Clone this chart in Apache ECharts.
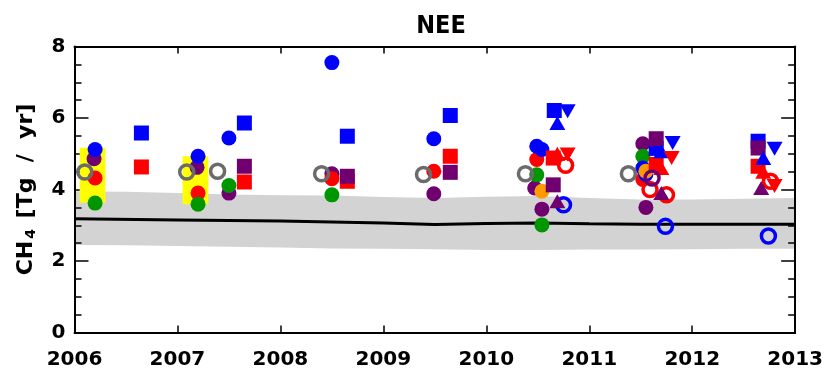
<!DOCTYPE html>
<html>
<head>
<meta charset="utf-8">
<script src="https://cdn.jsdelivr.net/npm/echarts@6/dist/echarts.min.js"></script>
<style>
  html, body { margin: 0; padding: 0; background: #ffffff; }
  #chart { width: 826px; height: 370px; }
</style>
</head>
<body>
<div id="chart"></div>
<script>
// Axis ranges
const yearMin = 2006;
const yearMax = 2013;
const valueMin = 0;
const valueMax = 8;

// Model uncertainty band (CH4 flux range) and central estimate
const bandYears  = [2006.0, 2006.5, 2007.0, 2007.5, 2008.0, 2008.5, 2009.0, 2009.5, 2010.0, 2010.5, 2011.0, 2011.5, 2012.0, 2012.5, 2013.0];
const bandUpper  = [3.95, 3.94, 3.90, 3.86, 3.84, 3.83, 3.79, 3.76, 3.80, 3.82, 3.76, 3.72, 3.72, 3.74, 3.76];
const bandLower  = [2.45, 2.44, 2.42, 2.40, 2.38, 2.35, 2.34, 2.33, 2.31, 2.31, 2.32, 2.32, 2.33, 2.34, 2.34];
const trendYears  = [2006.0, 2007.0, 2008.0, 2008.5, 2009.0, 2009.5, 2010.0, 2010.5, 2011.0, 2011.5, 2012.0, 2013.0];
const trendValues = [3.18, 3.15, 3.12, 3.09, 3.06, 3.02, 3.05, 3.06, 3.04, 3.03, 3.03, 3.03];

// Yellow range boxes
const boxStart = [2006.05, 2007.05];
const boxEnd   = [2006.30, 2007.30];
const boxLow   = [3.63, 3.59];
const boxHigh  = [5.17, 4.93];

// Filled circles
const purpleCircles = [[2006.19, 4.86], [2007.19, 4.62], [2007.50, 3.90], [2008.50, 4.44], [2009.49, 3.88], [2010.47, 4.04], [2010.54, 3.45], [2011.52, 5.28], [2011.55, 3.50]];
const redCircles    = [[2006.20, 4.32], [2007.20, 3.90], [2008.50, 4.30], [2009.49, 4.51], [2010.49, 4.84], [2011.52, 4.28]];
const greenCircles  = [[2006.20, 3.62], [2007.20, 3.59], [2007.50, 4.11], [2008.50, 3.85], [2010.49, 4.41], [2010.54, 3.01], [2011.52, 4.93]];
const blueCircles   = [[2006.20, 5.12], [2007.20, 4.93], [2007.50, 5.44], [2008.50, 7.55], [2009.49, 5.42], [2010.49, 5.21], [2010.54, 5.12], [2011.52, 4.60], [2011.55, 4.42]];
const orangeCircles = [[2010.54, 3.95], [2011.55, 4.51]];
const grayRings     = [[2006.10, 4.49], [2007.09, 4.49], [2007.39, 4.51], [2008.40, 4.44], [2009.39, 4.42], [2010.38, 4.44], [2011.38, 4.44]];

// Squares
const blueSquares   = [[2006.65, 5.58], [2007.65, 5.86], [2008.65, 5.49], [2009.65, 6.07], [2010.66, 6.21], [2011.65, 5.15], [2012.64, 5.35]];
const redSquares    = [[2006.65, 4.63], [2007.65, 4.21], [2008.65, 4.23], [2009.65, 4.93], [2010.65, 4.88], [2011.65, 4.70], [2012.64, 4.65]];
const purpleSquares = [[2007.65, 4.65], [2008.65, 4.37], [2009.65, 4.48], [2010.65, 4.13], [2011.65, 5.42], [2012.64, 5.16]];

// Triangles
const blueTriUp    = [[2010.69, 5.86], [2011.70, 5.07], [2012.69, 4.88]];
const redTriUp     = [[2010.69, 5.00], [2011.70, 4.60], [2012.69, 4.50]];
const purpleTriUp  = [[2010.69, 3.67], [2011.70, 3.90], [2012.67, 4.04]];
const blueTriDown  = [[2010.79, 6.19], [2011.81, 5.30], [2012.80, 5.14]];
const redTriDown   = [[2010.79, 4.98], [2011.80, 4.88], [2012.80, 4.10]];

// Open circles
const redRings    = [[2010.77, 4.68], [2011.59, 4.00], [2011.75, 3.85], [2012.76, 4.23]];
const blueRings   = [[2010.75, 3.57], [2011.74, 2.97], [2012.74, 2.70]];
const purpleRings = [[2011.61, 4.32]];

const BLUE = '#0000ff', RED = '#ff0000', PURPLE = '#700070', GREEN = '#009600', ORANGE = '#ff9a00', GRAY = '#6b6b6b';
const FONT = 'DejaVu Sans';

function dots(data, color, symbol, size, rotate) {
  return {
    type: 'scatter', data: data, symbol: symbol, symbolSize: size, symbolRotate: rotate || 0,
    itemStyle: { color: color, opacity: 1 }, emphasis: { disabled: true }, silent: true, z: 5
  };
}
function rings(data, color) {
  return {
    type: 'scatter', data: data, symbol: 'circle', symbolSize: 14,
    itemStyle: { color: 'rgba(0,0,0,0)', borderColor: color, borderWidth: 3.5, opacity: 1 },
    emphasis: { disabled: true }, silent: true, z: 5
  };
}

const chart = echarts.init(document.getElementById('chart'), null, { renderer: 'canvas' });

const axisCommon = {
  type: 'value', min: yearMin, max: yearMax, interval: 1,
  axisLine: { show: true, onZero: false, lineStyle: { color: '#000', width: 2 } },
  axisTick: { show: true, inside: true, length: 7, lineStyle: { color: '#000', width: 1.5 } },
  splitLine: { show: false }
};
const yCommon = {
  type: 'value', min: valueMin, max: valueMax, interval: 2,
  axisLine: { show: true, onZero: false, lineStyle: { color: '#000', width: 2 } },
  axisTick: { show: true, inside: true, length: 14, lineStyle: { color: '#000', width: 1.5 } },
  minorTick: { show: true, splitNumber: 4, length: 7, lineStyle: { color: '#000', width: 1.5 } },
  splitLine: { show: false }
};

chart.setOption({
  animation: false,
  backgroundColor: '#ffffff',
  title: {
    text: 'NEE', left: 436, top: 9, textAlign: 'center',
    textStyle: { fontFamily: 'DejaVu Sans Condensed', fontSize: 25, fontWeight: 'bold', color: '#000' }
  },
  grid: { left: 74.5, right: 29, top: 46.5, bottom: 37.5, containLabel: false },
  xAxis: [
    Object.assign({}, axisCommon, {
      position: 'bottom',
      axisLabel: { show: true, margin: 17, color: '#000', fontFamily: FONT, fontWeight: 'bold', fontSize: 20, formatter: v => String(v) }
    }),
    Object.assign({}, axisCommon, { position: 'top', axisLabel: { show: false } })
  ],
  yAxis: [
    Object.assign({}, yCommon, {
      position: 'left',
      axisLabel: { show: true, margin: 9, color: '#000', fontFamily: FONT, fontWeight: 'bold', fontSize: 20 },
      name: '{a|CH}{b|4}{a| [Tg  /  yr]}',
      nameLocation: 'middle', nameRotate: 90, nameGap: 36,
      nameTextStyle: {
        rich: {
          a: { fontFamily: FONT, fontWeight: 'bold', fontSize: 22, color: '#000' },
          b: { fontFamily: FONT, fontWeight: 'bold', fontSize: 14, color: '#000', padding: [11, 3, 0, 2] }
        }
      }
    }),
    Object.assign({}, yCommon, { position: 'right', axisLabel: { show: false } })
  ],
  series: [
    {
      // yellow range boxes
      type: 'custom', silent: true, z: 1,
      data: boxStart.map((s, i) => [s, boxEnd[i], boxLow[i], boxHigh[i]]),
      renderItem: function (params, api) {
        const p0 = api.coord([api.value(0), api.value(3)]);
        const p1 = api.coord([api.value(1), api.value(2)]);
        return { type: 'rect', shape: { x: p0[0], y: p0[1], width: p1[0] - p0[0], height: p1[1] - p0[1] }, style: { fill: '#ffff00' } };
      }
    },
    {
      // uncertainty band
      type: 'custom', silent: true, z: 0, clip: true,
      data: [0],
      renderItem: function (params, api) {
        const pts = [];
        for (let i = 0; i < bandYears.length; i++) pts.push(api.coord([bandYears[i], bandUpper[i]]));
        for (let i = bandYears.length - 1; i >= 0; i--) pts.push(api.coord([bandYears[i], bandLower[i]]));
        return { type: 'polygon', shape: { points: pts }, style: { fill: '#d3d3d3' } };
      }
    },
    {
      type: 'line', data: trendYears.map((y, i) => [y, trendValues[i]]),
      symbol: 'none', lineStyle: { color: '#000', width: 3 }, silent: true, z: 2
    },
    dots(purpleCircles, PURPLE, 'circle', 15),
    dots(redCircles, RED, 'circle', 15),
    dots(greenCircles, GREEN, 'circle', 15),
    dots(blueCircles, BLUE, 'circle', 15),
    dots(orangeCircles, ORANGE, 'circle', 15),
    rings(grayRings, GRAY),
    dots(blueSquares, BLUE, 'rect', 15),
    dots(redSquares, RED, 'rect', 15),
    dots(purpleSquares, PURPLE, 'rect', 15),
    dots(blueTriUp, BLUE, 'triangle', [16, 14]),
    dots(redTriUp, RED, 'triangle', [16, 14]),
    dots(blueTriDown, BLUE, 'triangle', [16, 14], 180),
    dots(redTriDown, RED, 'triangle', [16, 14], 180),
    rings(redRings, RED),
    rings(blueRings, BLUE),
    dots(purpleTriUp, PURPLE, 'triangle', [16, 14]),
    rings(purpleRings, PURPLE)
  ]
});
</script>
</body>
</html>
